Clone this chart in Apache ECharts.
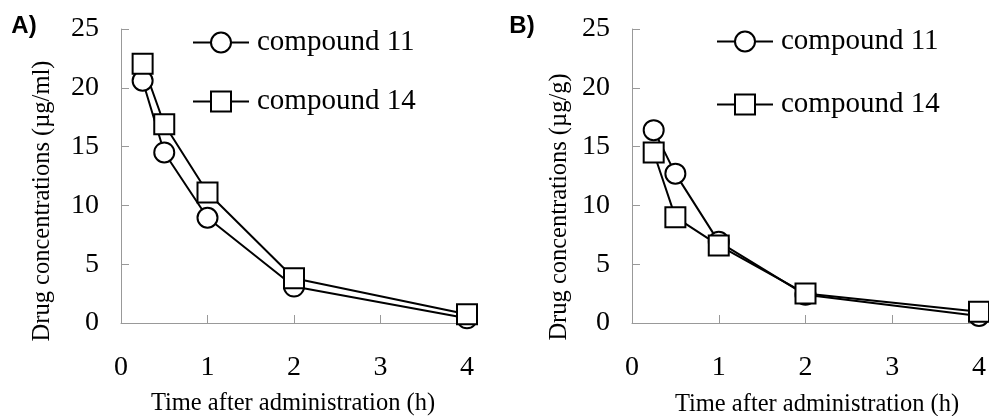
<!DOCTYPE html>
<html>
<head>
<meta charset="utf-8">
<script src="https://cdn.jsdelivr.net/npm/echarts@6/dist/echarts.min.js"></script>
<style>
html, body { margin: 0; padding: 0; background: #fff; }
#main { width: 989px; height: 416px; }
</style>
</head>
<body>
<div id="main"></div>
<script>
// sampling times (h)
var timePoints = [0.25, 0.5, 1, 2, 4];
// A) plasma, ug/ml
var plasma11 = [20.6, 14.5, 8.95, 3.1, 0.4];
var plasma14 = [22.05, 16.9, 11.1, 3.8, 0.75];
// B) tissue, ug/g
var tissue11 = [16.4, 12.7, 6.9, 2.4, 0.6];
var tissue14 = [14.5, 9.0, 6.6, 2.5, 0.95];
var xTicks = [0, 1, 2, 3, 4];
var yTicks = [0, 5, 10, 15, 20, 25];
var seriesNames = ['compound 11', 'compound 14'];

var chart = (function () {
    var serif = 'Liberation Serif';
    var Return = {
        init: function () {
            var myChart = echarts.init(document.getElementById('main'));
            myChart.setOption(buildOption());
        }
    };
    var pairs = function (ys) {
        return timePoints.map(function (t, i) { return [t, ys[i]]; });
    };
    var xAxisFor = function (idx) {
        return {
            type: 'value', gridIndex: idx,
            min: xTicks[0], max: xTicks[xTicks.length - 1], interval: 1,
            splitLine: { show: false },
            axisLine: { lineStyle: { color: '#999', width: 1 } },
            axisTick: { inside: true, length: 8, lineStyle: { color: '#999' } },
            axisLabel: { margin: 31, fontFamily: serif, fontSize: 28, color: '#000' }
        };
    };
    var yAxisFor = function (idx) {
        return {
            type: 'value', gridIndex: idx,
            min: yTicks[0], max: yTicks[yTicks.length - 1], interval: 5,
            splitLine: { show: false },
            axisLine: { show: true, lineStyle: { color: '#999', width: 1 } },
            axisTick: { show: true, inside: true, length: 8, lineStyle: { color: '#999' } },
            axisLabel: { margin: 22, fontFamily: serif, fontSize: 28, color: '#000' }
        };
    };
    var lineSeries = function (name, symbol, ys, idx) {
        return {
            name: name, type: 'line',
            xAxisIndex: idx, yAxisIndex: idx,
            data: pairs(ys),
            symbol: symbol, symbolSize: 20,
            showAllSymbol: true,
            lineStyle: { color: '#000', width: 2 },
            itemStyle: { color: '#fff', borderColor: '#000', borderWidth: 2 },
            emphasis: { disabled: true },
            animation: false
        };
    };
    var legendFor = function (idx, left, top, gap) {
        return {
            data: seriesNames.map(function (n) { return { name: n }; }),
            orient: 'vertical', left: left, top: top, padding: 0,
            itemWidth: 56, itemHeight: 25, itemGap: gap,
            selectedMode: false,
            textStyle: { fontFamily: serif, fontSize: 29, color: '#000', padding: [0, 0, 0, 3] }
        };
    };
    var label = function (txt, x, y, rot, font) {
        return {
            type: 'text', x: x, y: y, rotation: rot,
            style: { text: txt, font: font, fill: '#000', align: 'center', verticalAlign: 'middle' }
        };
    };
    var buildOption = function () {
        return {
            backgroundColor: '#fff',
            animation: false,
            grid: [
                { left: 121, top: 29, width: 346, height: 294 },
                { left: 632, top: 29, width: 349, height: 294 }
            ],
            xAxis: [xAxisFor(0), xAxisFor(1)],
            yAxis: [yAxisFor(0), yAxisFor(1)],
            legend: [legendFor(0, 192, 28, 30), legendFor(1, 716, 27, 34)],
            series: [
                lineSeries(seriesNames[0], 'circle', plasma11, 0),
                lineSeries(seriesNames[1], 'rect', plasma14, 0),
                lineSeries(seriesNames[0], 'circle', tissue11, 1),
                lineSeries(seriesNames[1], 'rect', tissue14, 1)
            ],
            graphic: [
                label('A)', 24, 26, 0, 'bold 24px "Liberation Sans"'),
                label('B)', 522, 26, 0, 'bold 24px "Liberation Sans"'),
                label('Drug concentrations (\u00b5g/ml)', 43, 201, Math.PI / 2, '24.5px "Liberation Serif"'),
                label('Drug concentrations (\u00b5g/g)', 560, 207, Math.PI / 2, '24.5px "Liberation Serif"'),
                label('Time after administration (h)', 293, 404, 0, '24.5px "Liberation Serif"'),
                label('Time after administration (h)', 817, 405, 0, '24.5px "Liberation Serif"')
            ]
        };
    };
    return Return;
})();

; (function () {
    chart.init();
})();
</script>
</body>
</html>
